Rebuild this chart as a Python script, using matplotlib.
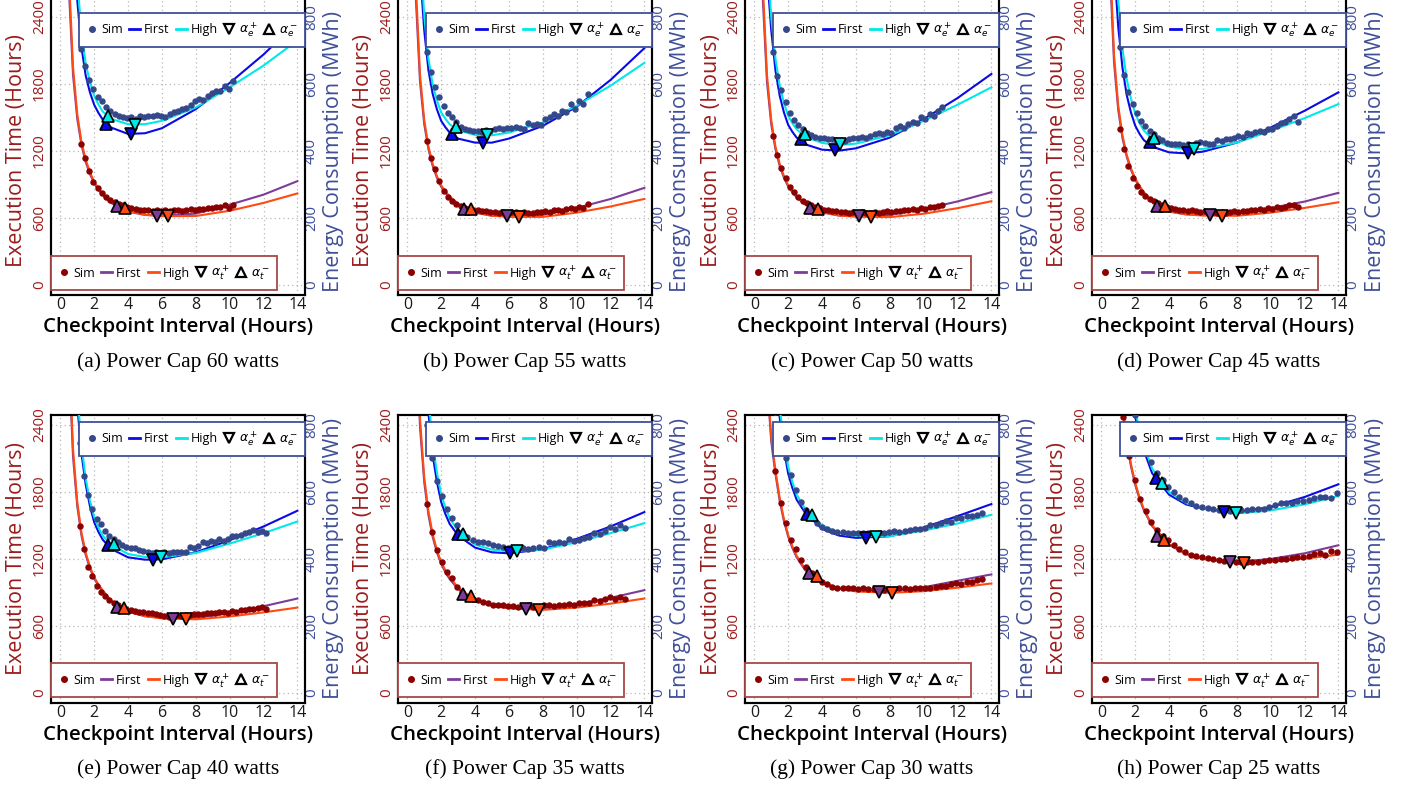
import matplotlib

matplotlib.use("Agg")
import matplotlib.pyplot as plt
import numpy as np
from matplotlib import font_manager
from matplotlib.lines import Line2D

plt.rcParams["font.family"] = ["Open Sans", "DejaVu Sans"]
plt.rcParams["mathtext.fontset"] = "dejavusans"

# ---------------------------------------------------------------- data
POWER_CAPS = [60, 55, 50, 45, 40, 35, 30, 25]
PANEL_TAGS = ["a", "b", "c", "d", "e", "f", "g", "h"]

# simulated checkpoint intervals (hours): first / last sample per panel
SIM_X_START = [1.2, 1.15, 1.1, 1.1, 1.15, 1.15, 1.25, 1.3]
SIM_X_STOP = [10.2, 10.65, 11.1, 11.6, 12.15, 12.85, 13.45, 13.9]

# simulated execution time (hours)
TIME_SIM = [
    [1260, 1140, 1020, 925, 868, 828, 792, 762, 745, 728, 712, 700, 690, 680, 675, 668, 672, 665, 668,
     662, 670, 660, 668, 675, 662, 668, 678, 672, 685, 680, 692, 688, 700, 695, 715, 690, 720],
    [1290, 1140, 1035, 930, 845, 785, 752, 722, 705, 690, 682, 672, 668, 660, 662, 650, 655, 648, 652,
     645, 650, 655, 642, 650, 648, 645, 655, 650, 662, 655, 668, 672, 665, 680, 690, 682, 695, 688, 728],
    [1335, 1165, 1045, 955, 880, 830, 790, 755, 732, 712, 700, 688, 676, 672, 662, 660, 655, 650, 648,
     652, 645, 650, 642, 648, 655, 645, 650, 660, 652, 665, 660, 672, 668, 680, 675, 690, 682, 700, 695,
     705, 720],
    [1400, 1215, 1065, 955, 885, 835, 800, 772, 752, 730, 712, 700, 690, 680, 672, 670, 662, 668, 660,
     655, 660, 650, 655, 648, 652, 645, 655, 660, 650, 665, 662, 672, 668, 678, 672, 688, 682, 695, 690,
     700, 712, 720, 700],
    [1500, 1290, 1131, 1045, 955, 905, 870, 830, 805, 785, 762, 750, 745, 738, 725, 722, 712, 715, 710,
     700, 690, 685, 690, 695, 688, 700, 695, 705, 710, 705, 712, 718, 715, 722, 728, 720, 730, 725, 740,
     745, 756, 750, 765, 770, 752],
    [1695, 1446, 1281, 1176, 1086, 1026, 951, 906, 861, 846, 831, 816, 802, 792, 786, 786, 780, 777, 771,
     780, 786, 771, 771, 786, 792, 780, 786, 792, 801, 792, 804, 810, 807, 831, 822, 846, 861, 846, 861,
     846],
    [1992, 1701, 1521, 1371, 1290, 1191, 1131, 1071, 1026, 996, 972, 951, 942, 942, 936, 936, 930, 936,
     927, 930, 921, 921, 930, 927, 936, 936, 930, 936, 942, 942, 942, 951, 960, 954, 972, 981, 975, 990,
     996, 1008, 1020],
    [2469, 2118, 1908, 1740, 1629, 1530, 1458, 1404, 1368, 1323, 1293, 1260, 1239, 1224, 1215, 1206, 1197,
     1188, 1179, 1179, 1173, 1170, 1170, 1170, 1173, 1179, 1188, 1194, 1200, 1203, 1209, 1218, 1218, 1224,
     1248, 1254, 1239, 1269, 1260],
]

# simulated energy consumption (MWh)
ENERGY_SIM = [
    [705, 655, 612, 585, 562, 548, 532, 520, 510, 505, 502, 498, 500, 497, 503, 500, 505, 503, 508, 505,
     500, 510, 515, 520, 525, 528, 537, 548, 555, 552, 565, 572, 580, 578, 595, 585, 610],
    [695, 637, 590, 560, 535, 512, 500, 487, 472, 466, 462, 460, 460, 458, 462, 460, 465, 468, 466, 470,
     470, 472, 470, 465, 483, 478, 482, 478, 495, 500, 510, 505, 520, 515, 540, 525, 548, 540, 570],
    [695, 623, 583, 545, 512, 492, 477, 465, 455, 447, 443, 440, 438, 435, 436, 432, 433, 430, 437, 440,
     438, 442, 440, 445, 452, 455, 450, 458, 455, 470, 475, 470, 480, 488, 485, 500, 495, 510, 505, 520,
     532],
    [710, 627, 577, 540, 512, 490, 475, 460, 450, 440, 432, 425, 420, 422, 420, 418, 420, 415, 425, 428,
     425, 420, 422, 432, 430, 435, 437, 440, 445, 442, 455, 452, 457, 460, 458, 467, 465, 475, 485, 488,
     495, 503, 487],
    [745, 647, 592, 550, 520, 505, 485, 470, 460, 450, 442, 435, 432, 432, 428, 425, 420, 418, 422, 418,
     420, 418, 420, 422, 422, 420, 435, 432, 440, 450, 448, 455, 450, 460, 455, 460, 468, 470, 472, 478,
     480, 488, 482, 485, 478],
    [800, 702, 634, 587, 550, 522, 502, 480, 467, 457, 452, 450, 447, 442, 440, 437, 434, 434, 430, 432,
     430, 434, 437, 434, 450, 447, 452, 447, 460, 454, 457, 462, 467, 477, 474, 484, 497, 490, 502, 494],
    [840, 760, 700, 650, 605, 570, 545, 522, 507, 497, 490, 484, 480, 480, 479, 479, 478, 477, 477, 474,
     477, 477, 480, 484, 482, 484, 487, 490, 490, 494, 500, 502, 507, 512, 510, 522, 522, 527, 527, 532,
     537],
    [1000, 905, 830, 772, 728, 690, 658, 635, 614, 600, 586, 576, 566, 559, 555, 552, 548, 546, 546, 543,
     545, 546, 545, 548, 550, 550, 556, 560, 566, 566, 568, 572, 573, 576, 583, 586, 586, 582, 596],
]

# model curves sampled at these intervals (hours)
CURVE_X = [0.5, 0.75, 1, 1.25, 1.5, 1.75, 2, 2.25, 2.5, 3, 4, 5, 6, 8, 10, 12, 14]

ENERGY_FIRST = [
    [1700, 1140, 850, 710, 625, 575, 538, 514, 494, 470, 451, 453, 468, 525, 603, 688, 785],
    [1450, 940, 760, 640, 570, 524, 490, 471, 455, 437, 425, 425, 437, 475, 532, 612, 707],
    [1300, 930, 760, 640, 565, 515, 478, 457, 440, 420, 404, 401, 408, 440, 495, 558, 630],
    [1350, 960, 770, 648, 567, 515, 476, 452, 433, 413, 396, 393, 398, 425, 470, 520, 575],
    [1600, 1100, 860, 715, 622, 558, 510, 481, 458, 430, 405, 398, 399, 420, 456, 497, 544],
    [2000, 1380, 1050, 835, 710, 630, 570, 534, 505, 470, 434, 420, 417, 429, 460, 497, 540],
    [2400, 1650, 1250, 985, 822, 727, 655, 612, 577, 538, 490, 470, 463, 468, 494, 528, 564],
    [2445, 1721, 1360, 1144, 1002, 901, 825, 770, 726, 656, 592, 563, 550, 540, 555, 585, 623],
]
ENERGY_HIGH = [
    [1800, 1230, 910, 755, 660, 606, 565, 539, 518, 496, 480, 480, 490, 530, 590, 655, 730],
    [1550, 1010, 805, 675, 598, 551, 515, 496, 480, 462, 448, 447, 455, 485, 535, 595, 663],
    [1400, 990, 800, 675, 595, 544, 505, 483, 465, 443, 424, 418, 422, 447, 490, 538, 590],
    [1600, 1100, 850, 705, 615, 556, 512, 484, 462, 436, 413, 405, 406, 425, 460, 498, 540],
    [1700, 1170, 900, 740, 640, 574, 525, 495, 470, 442, 415, 406, 405, 418, 446, 477, 512],
    [2100, 1450, 1110, 880, 745, 658, 593, 554, 522, 484, 443, 428, 423, 428, 450, 477, 507],
    [2500, 1720, 1300, 1025, 852, 751, 675, 629, 592, 550, 500, 478, 469, 468, 485, 506, 532],
    [2550, 1790, 1410, 1180, 1030, 925, 845, 788, 742, 670, 600, 567, 550, 536, 545, 563, 588],
]
TIME_FIRST = [
    [2676, 1884, 1490, 1254, 1102, 994, 912, 853, 805, 734, 657, 628, 623, 639, 719, 809, 930],
    [2580, 1820, 1440, 1215, 1065, 960, 880, 828, 785, 720, 648, 620, 617, 628, 690, 770, 870],
    [2570, 1815, 1440, 1215, 1065, 961, 882, 829, 785, 722, 650, 622, 618, 628, 680, 748, 831],
    [2856, 1997, 1568, 1315, 1149, 1032, 944, 879, 825, 747, 657, 633, 630, 641, 689, 747, 825],
    [3015, 2120, 1675, 1410, 1237, 1116, 1025, 962, 911, 825, 727, 688, 673, 673, 714, 777, 846],
    [3369, 2381, 1887, 1592, 1396, 1259, 1156, 1081, 1020, 932, 830, 781, 762, 760, 798, 852, 921],
    [3900, 2800, 2250, 1960, 1720, 1538, 1400, 1298, 1215, 1100, 985, 935, 913, 910, 947, 1005, 1062],
    [5370, 3805, 3025, 2558, 2249, 2030, 1865, 1741, 1640, 1495, 1328, 1245, 1202, 1174, 1200, 1251, 1323],
]
TIME_HIGH = [
    [2800, 1950, 1530, 1280, 1122, 1010, 925, 865, 815, 742, 662, 628, 616, 618, 665, 735, 820],
    [2700, 1880, 1475, 1238, 1083, 974, 892, 838, 793, 727, 652, 620, 610, 610, 648, 703, 771],
    [2690, 1875, 1475, 1238, 1083, 975, 893, 838, 793, 728, 654, 622, 611, 608, 638, 688, 750],
    [2980, 2060, 1605, 1338, 1165, 1045, 955, 888, 833, 753, 662, 632, 622, 620, 648, 690, 741],
    [3140, 2185, 1712, 1435, 1255, 1131, 1037, 973, 920, 827, 730, 688, 668, 660, 685, 722, 765],
    [3480, 2450, 1930, 1625, 1420, 1279, 1172, 1099, 1040, 942, 835, 782, 758, 745, 765, 800, 846],
    [4000, 2860, 2290, 1990, 1745, 1557, 1415, 1312, 1228, 1110, 992, 938, 910, 897, 912, 943, 981],
    [5500, 3880, 3075, 2595, 2275, 2051, 1882, 1756, 1652, 1503, 1333, 1247, 1200, 1166, 1175, 1203, 1239],
]

# optimal intervals: (interval, value) per panel
E_FIRST_PLUS = [(4.2, 450), (4.48, 425), (4.75, 402), (5.1, 395), (5.5, 398), (6.07, 419), (6.6, 462), (7.27, 540)]
E_FIRST_MINUS = [(2.67, 480), (2.64, 452), (2.73, 437), (2.85, 427), (2.83, 442), (2.98, 474), (3.1, 535), (3.2, 641)]
E_HIGH_PLUS = [(4.4, 478), (4.72, 447), (5.07, 420), (5.45, 405), (5.96, 405), (6.5, 424), (7.2, 466), (7.98, 537)]
E_HIGH_MINUS = [(2.8, 503), (2.9, 473), (3.0, 452), (3.09, 440), (3.17, 444), (3.29, 474), (3.43, 530), (3.6, 628)]
T_FIRST_PLUS = [(5.7, 622), (5.9, 618), (6.16, 618), (6.42, 630), (6.65, 666), (7.0, 755), (7.36, 906), (7.62, 1173)]
T_FIRST_MINUS = [(3.33, 705), (3.33, 683), (3.29, 690), (3.29, 711), (3.33, 771), (3.29, 891), (3.23, 1071), (3.3, 1410)]
T_HIGH_PLUS = [(6.35, 616), (6.6, 612), (6.9, 609), (7.15, 618), (7.45, 660), (7.8, 745), (8.15, 897), (8.4, 1164)]
T_HIGH_MINUS = [(3.82, 692), (3.77, 683), (3.76, 684), (3.76, 705), (3.76, 762), (3.77, 870), (3.73, 1050), (3.73, 1368)]

# ---------------------------------------------------------------- style
RED = "#9c1c1c"
SLATE = "#3f4f98"
T_DOT = "#8b0000"
E_DOT = "#34488a"
E_FIRST_C = "#0a0ae6"
E_HIGH_C = "#00e8e8"
T_FIRST_C = "#7d3c98"
T_HIGH_C = "#ff4a12"

W, H = 1408, 786
COL_LEFT = [51, 398, 745, 1092]
AX_W = 254
ROW_TOP = [-3, 415]
ROW_BOTTOM = [295, 703]
ROW_MID = [151, 559]
LEG_E_TOP = [13, 422]
LEG_T_BOTTOM = [290, 697]
CAPTION_Y = [362, 769]
H_PER_PX = 600 / 67.0

# the y tick digits in the reference are tall and narrow
_NAMES = {f.name for f in font_manager.fontManager.ttflist}
if "Liberation Sans Narrow" in _NAMES:
    YTICK_FONT, YTICK_SIZE, YPAD_L, YPAD_R = "Liberation Sans Narrow", 12.5, 3.0, 0.0
else:
    YTICK_FONT, YTICK_SIZE, YPAD_L, YPAD_R = "Open Sans", 11, 3.0, -0.8


def legend_handles(first_c, high_c, dot_c):
    return [
        Line2D([], [], ls="none", marker="o", ms=4, color=dot_c),
        Line2D([], [], color=first_c, lw=2.0),
        Line2D([], [], color=high_c, lw=2.0),
        Line2D([], [], ls="none", marker="v", ms=6.5, mfc="white", mec="black", mew=1.6),
        Line2D([], [], ls="none", marker="^", ms=6.5, mfc="white", mec="black", mew=1.6),
    ]


def add_legend(ax, fig, handles, labels, left, top, edge, anchor):
    bbox = (left / W, 1 - top / H, 226 / W, 0.0)
    leg = ax.legend(handles, labels, loc=anchor, bbox_to_anchor=bbox, bbox_transform=fig.transFigure,
                    mode="expand", ncol=5, fontsize=9, handlelength=0.9, handletextpad=0.3,
                    borderpad=0.6, borderaxespad=0, columnspacing=0.4, frameon=True, fancybox=False,
                    framealpha=1, edgecolor=edge)
    leg.get_frame().set_linewidth(1.3)
    leg.set_zorder(20)
    return leg


def draw_panel(fig, i):
    row, col = divmod(i, 4)
    left, top, bottom = COL_LEFT[col], ROW_TOP[row], ROW_BOTTOM[row]
    height = bottom - top
    ax = fig.add_axes([left / W, (H - bottom) / H, AX_W / W, height / H])
    ylim = (-10 * H_PER_PX, (height - 10) * H_PER_PX)
    ax.set_xlim(-0.55, 14.45)
    ax.set_ylim(*ylim)
    ax2 = ax.twinx()
    ax2.set_ylim(ylim[0] / 3, ylim[1] / 3)

    sim_x = np.linspace(SIM_X_START[i], SIM_X_STOP[i], len(TIME_SIM[i]))

    # execution time (left axis)
    ax.plot(CURVE_X, TIME_FIRST[i], color=T_FIRST_C, lw=1.5, zorder=3)
    ax.plot(CURVE_X, TIME_HIGH[i], color=T_HIGH_C, lw=1.5, zorder=3)
    ax.plot(sim_x, TIME_SIM[i], ls="none", marker="o", ms=3.6, color=T_DOT, zorder=4)
    for pts, mk, c in [(T_FIRST_PLUS, "v", T_FIRST_C), (T_FIRST_MINUS, "^", T_FIRST_C),
                       (T_HIGH_PLUS, "v", T_HIGH_C), (T_HIGH_MINUS, "^", T_HIGH_C)]:
        ax.plot(*pts[i], ls="none", marker=mk, ms=8.5, mfc=c, mec="black", mew=1.2, zorder=5)

    # energy (right axis)
    ax2.plot(CURVE_X, ENERGY_FIRST[i], color=E_FIRST_C, lw=1.5, zorder=3)
    ax2.plot(CURVE_X, ENERGY_HIGH[i], color=E_HIGH_C, lw=1.5, zorder=3)
    ax2.plot(sim_x, ENERGY_SIM[i], ls="none", marker="o", ms=3.6, color=E_DOT, zorder=4)
    for pts, mk, c in [(E_FIRST_PLUS, "v", E_FIRST_C), (E_FIRST_MINUS, "^", E_FIRST_C),
                       (E_HIGH_PLUS, "v", E_HIGH_C), (E_HIGH_MINUS, "^", E_HIGH_C)]:
        ax2.plot(*pts[i], ls="none", marker=mk, ms=8.5, mfc=c, mec="black", mew=1.2, zorder=5)

    # axes decoration
    ax.set_xticks(range(0, 15, 2))
    ax.set_yticks([0, 600, 1200, 1800, 2400])
    ax2.set_yticks([0, 200, 400, 600, 800])
    ax.grid(True, ls=(0, (1, 2.5)), color="#b8b8b8", lw=0.9)
    ax.set_axisbelow(True)
    ax.tick_params(axis="x", length=0, pad=1.5, labelsize=11.5, labelcolor="#1a1a1a")
    ax.tick_params(axis="y", length=0, pad=YPAD_L, labelsize=YTICK_SIZE, labelcolor=RED, labelrotation=90)
    ax2.tick_params(axis="y", length=0, pad=YPAD_R, labelsize=YTICK_SIZE, labelcolor=SLATE, labelrotation=90)
    for lab in ax.get_yticklabels() + ax2.get_yticklabels():
        lab.set_verticalalignment("center")
        lab.set_family(YTICK_FONT)
    for sp in list(ax.spines.values()) + list(ax2.spines.values()):
        sp.set_linewidth(1.5)
        sp.set_color("black")

    mid = (bottom - ROW_MID[row]) / height
    ax.set_ylabel("Execution Time (Hours)", color=RED, fontsize=15.5, va="center")
    ax.yaxis.set_label_coords(-34 / AX_W, mid)
    ax2.set_ylabel("Energy Consumption (MWh)", color=SLATE, fontsize=15.5, va="center")
    ax2.yaxis.set_label_coords(1 + 29 / AX_W, mid)
    ax.set_xlabel("Checkpoint Interval (Hours)", fontsize=14.7, fontweight="semibold", va="center")
    ax.xaxis.set_label_coords(0.5, -32 / height)

    leg_t = add_legend(ax2, fig, legend_handles(T_FIRST_C, T_HIGH_C, T_DOT),
                       ["Sim", "First", "High", r"$\alpha_t^+$", r"$\alpha_t^-$"],
                       left, LEG_T_BOTTOM[row], "#a84848", "lower left")
    ax2.add_artist(leg_t)
    add_legend(ax2, fig, legend_handles(E_FIRST_C, E_HIGH_C, E_DOT),
               ["Sim", "First", "High", r"$\alpha_e^+$", r"$\alpha_e^-$"],
               left + 28, LEG_E_TOP[row], SLATE, "upper left")

    fig.text((left + AX_W / 2) / W, 1 - CAPTION_Y[row] / H,
             f"({PANEL_TAGS[i]}) Power Cap {POWER_CAPS[i]} watts",
             family="Liberation Serif", fontsize=15.5, ha="center", va="center")


def main() -> None:
    fig = plt.figure(figsize=(W / 100, H / 100), dpi=100)
    for i in range(8):
        draw_panel(fig, i)
    fig.savefig("out.png", dpi=100)
    plt.close(fig)


if __name__ == "__main__":
    main()
